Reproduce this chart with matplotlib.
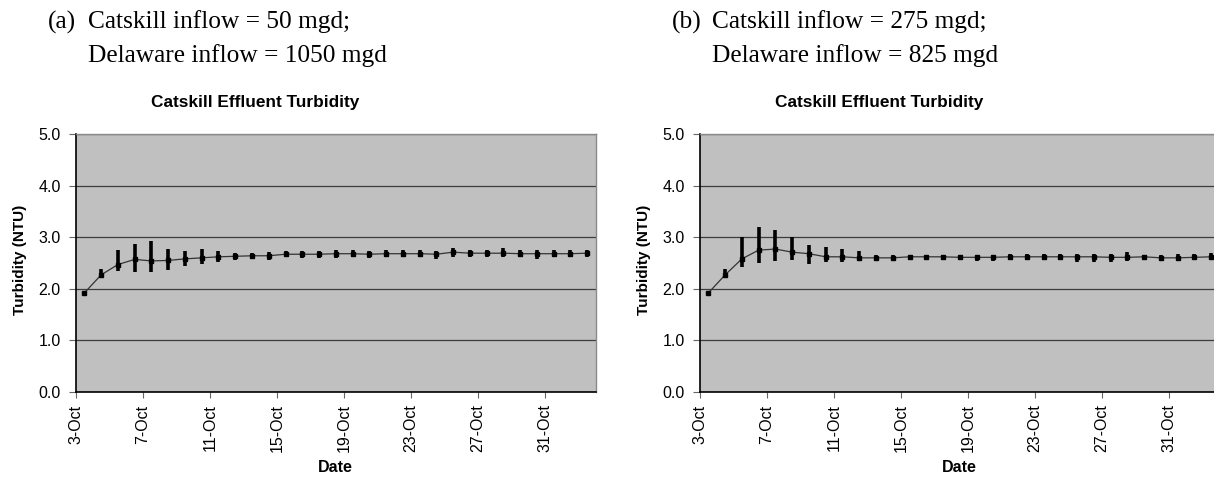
import matplotlib
matplotlib.use("Agg")
import matplotlib.pyplot as plt
import numpy as np

W, H = 1214, 479

# Daily dates shown on the category axis (3-Oct .. 2-Nov)
dates = ["3-Oct", "4-Oct", "5-Oct", "6-Oct", "7-Oct", "8-Oct", "9-Oct", "10-Oct",
         "11-Oct", "12-Oct", "13-Oct", "14-Oct", "15-Oct", "16-Oct", "17-Oct",
         "18-Oct", "19-Oct", "20-Oct", "21-Oct", "22-Oct", "23-Oct", "24-Oct",
         "25-Oct", "26-Oct", "27-Oct", "28-Oct", "29-Oct", "30-Oct", "31-Oct",
         "1-Nov", "2-Nov"]
tick_labels = ["3-Oct", "7-Oct", "11-Oct", "15-Oct", "19-Oct", "23-Oct", "27-Oct", "31-Oct"]

# Scenario (a): Catskill 50 mgd, Delaware 1050 mgd
mean_a = [1.92, 2.27, 2.47, 2.57, 2.54, 2.55, 2.58, 2.60, 2.62, 2.63, 2.64, 2.64,
          2.67, 2.67, 2.67, 2.68, 2.68, 2.67, 2.68, 2.68, 2.68, 2.67, 2.71, 2.69,
          2.69, 2.69, 2.68, 2.68, 2.68, 2.68, 2.69]
low_a = [1.90, 2.20, 2.35, 2.33, 2.33, 2.36, 2.45, 2.49, 2.51, 2.55, 2.58, 2.56,
         2.61, 2.60, 2.59, 2.60, 2.61, 2.60, 2.61, 2.61, 2.61, 2.57, 2.62, 2.61,
         2.61, 2.61, 2.61, 2.58, 2.61, 2.61, 2.61]
high_a = [1.94, 2.38, 2.75, 2.86, 2.93, 2.77, 2.73, 2.77, 2.73, 2.69, 2.70, 2.71,
          2.73, 2.73, 2.74, 2.75, 2.75, 2.74, 2.75, 2.75, 2.75, 2.74, 2.79, 2.76,
          2.76, 2.79, 2.75, 2.75, 2.75, 2.75, 2.76]

# Scenario (b): Catskill 275 mgd, Delaware 825 mgd
mean_b = [1.92, 2.27, 2.58, 2.75, 2.77, 2.71, 2.68, 2.62, 2.62, 2.60, 2.60, 2.60,
          2.62, 2.62, 2.62, 2.61, 2.61, 2.61, 2.62, 2.62, 2.62, 2.62, 2.62, 2.62,
          2.61, 2.61, 2.62, 2.60, 2.60, 2.61, 2.62]
low_b = [1.90, 2.20, 2.43, 2.50, 2.53, 2.56, 2.49, 2.51, 2.51, 2.53, 2.54, 2.55,
         2.56, 2.56, 2.56, 2.55, 2.54, 2.53, 2.55, 2.56, 2.56, 2.56, 2.51, 2.51,
         2.51, 2.53, 2.55, 2.55, 2.55, 2.55, 2.55]
high_b = [1.94, 2.38, 3.00, 3.20, 3.14, 3.00, 2.85, 2.81, 2.77, 2.73, 2.65, 2.66,
          2.66, 2.66, 2.66, 2.66, 2.66, 2.66, 2.67, 2.67, 2.67, 2.67, 2.67, 2.67,
          2.67, 2.71, 2.66, 2.66, 2.67, 2.67, 2.70]

headers = [("(a)", "Catskill inflow = 50 mgd;", "Delaware inflow = 1050 mgd"),
           ("(b)", "Catskill inflow = 275 mgd;", "Delaware inflow = 825 mgd")]

plt.rcParams["font.family"] = ["Liberation Sans", "DejaVu Sans"]

fig = plt.figure(figsize=(W / 100, H / 100), dpi=100)
fig.patch.set_facecolor("white")


def fx(px):
    return px / W


def fy(py):
    return 1 - py / H


cat_w = 16.76
plot_left = [76, 700]
plot_top, plot_bottom = 134, 392
n = len(dates)
serif = ["Liberation Serif", "DejaVu Serif"]

panels = [(mean_a, low_a, high_a), (mean_b, low_b, high_b)]

for k, (mean, low, high) in enumerate(panels):
    x0 = plot_left[k]
    ax = fig.add_axes([fx(x0), fy(plot_bottom), n * cat_w / W,
                       (plot_bottom - plot_top) / H])
    ax.set_facecolor("#C0C0C0")
    x = np.arange(n) + 0.5
    mean = np.array(mean)
    yerr = np.vstack([mean - np.array(low), np.array(high) - mean])
    ax.plot(x, mean, color="#333333", lw=0.9, zorder=3)
    ax.errorbar(x, mean, yerr=yerr, fmt="none", ecolor="black",
                elinewidth=2.6, capsize=0, zorder=4)
    ax.plot(x, mean, ls="none", marker="s", ms=3.2, color="black", zorder=5)

    ax.set_xlim(0, n)
    ax.set_ylim(0, 5)
    yt = np.arange(0, 5.01, 1.0)
    ax.set_yticks(yt)
    ax.set_yticklabels([f"{v:.1f}" for v in yt], fontsize=11.5)
    ax.yaxis.grid(True, color="#3c3c3c", lw=0.9)
    ax.set_axisbelow(True)
    ax.set_xticks(np.arange(0, n - 2, 4))
    ax.set_xticklabels(tick_labels, rotation=90, fontsize=11.5)
    ax.tick_params(axis="y", direction="out", length=5, width=0.8,
                   color="#666666", pad=6)
    ax.tick_params(axis="x", direction="out", length=4, width=0.8,
                   color="#666666", pad=5)
    for side in ("top", "right"):
        ax.spines[side].set_color("#8a8a8a")
        ax.spines[side].set_linewidth(1.0)
    for side in ("left", "bottom"):
        ax.spines[side].set_color("black")
        ax.spines[side].set_linewidth(1.2)

    off = 624 * k
    fig.text(fx(x0 + n * cat_w / 2), fy(467), "Date", ha="center", va="center",
             fontsize=11.5, fontweight="bold")
    fig.text(fx(20 + off), fy(260), "Turbidity (NTU)", ha="center", va="center",
             rotation=90, fontsize=11, fontweight="bold")
    fig.text(fx(255 + off), fy(103), "Catskill Effluent Turbidity",
             ha="center", va="center", fontsize=12.4, fontweight="bold")
    tag, line1, line2 = headers[k]
    fig.text(fx(48 + off), fy(22), tag, ha="left", va="center",
             fontsize=18.3, family=serif)
    fig.text(fx(88 + off), fy(22), line1, ha="left", va="center",
             fontsize=18.3, family=serif)
    fig.text(fx(88 + off), fy(56), line2, ha="left", va="center",
             fontsize=18.3, family=serif)

fig.savefig("out.png", dpi=100, facecolor="white")
